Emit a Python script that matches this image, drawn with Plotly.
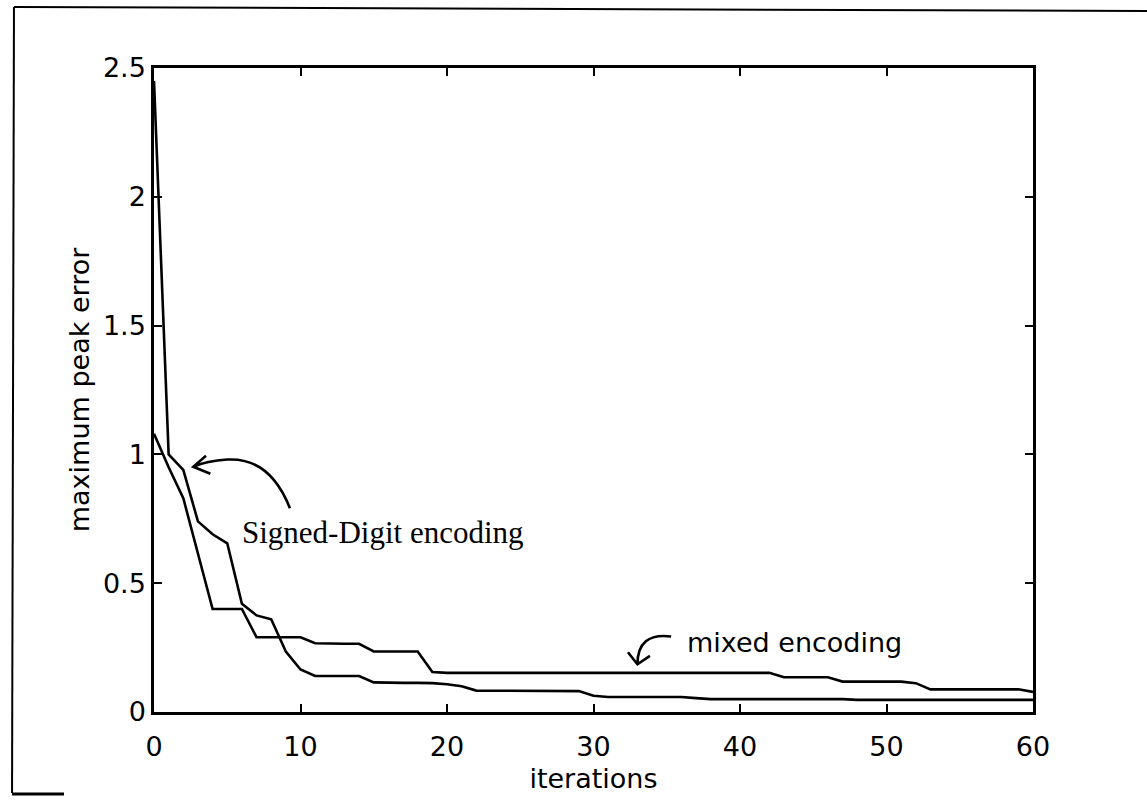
import plotly.graph_objects as go

# ---------------- data ----------------
iterations = list(range(61))

signed_digit = [2.45, 1.00, 0.94, 0.74, 0.69, 0.655, 0.42, 0.375, 0.36, 0.235,
                0.165, 0.14, 0.14, 0.14, 0.14, 0.115, 0.113, 0.113, 0.113, 0.112,
                0.108, 0.10, 0.083, 0.083, 0.083, 0.083, 0.083, 0.083, 0.083, 0.081,
                0.063, 0.058, 0.058, 0.058, 0.058, 0.058, 0.058, 0.054, 0.050, 0.050,
                0.050, 0.050, 0.050, 0.050, 0.050, 0.050, 0.050, 0.050, 0.047, 0.047,
                0.047, 0.047, 0.047, 0.047, 0.047, 0.047, 0.047, 0.047, 0.047, 0.047,
                0.047]

mixed = [1.08, 0.95, 0.83, 0.62, 0.40, 0.40, 0.40, 0.29, 0.29, 0.29,
         0.29, 0.267, 0.265, 0.265, 0.265, 0.235, 0.235, 0.235, 0.235, 0.155,
         0.152, 0.152, 0.152, 0.152, 0.152, 0.152, 0.152, 0.152, 0.152, 0.152,
         0.152, 0.152, 0.152, 0.152, 0.152, 0.152, 0.152, 0.152, 0.152, 0.152,
         0.152, 0.152, 0.152, 0.135, 0.135, 0.135, 0.135, 0.118, 0.118, 0.118,
         0.118, 0.118, 0.112, 0.088, 0.088, 0.088, 0.088, 0.088, 0.088, 0.088,
         0.078]

x_ticks = [0, 10, 20, 30, 40, 50, 60]
y_ticks = [0, 0.5, 1, 1.5, 2, 2.5]
y_tick_labels = ["0", "0.5", "1", "1.5", "2", "2.5"]

x_title = "iterations"
y_title = "maximum peak error"
label_signed = "Signed-Digit encoding"
label_mixed = "mixed encoding"

# ---------------- figure ----------------
SANS = "DejaVu Sans"
SERIF = "Liberation Serif"

fig = go.Figure()
fig.add_trace(go.Scatter(x=iterations, y=signed_digit, mode="lines",
                         line=dict(color="black", width=2.6),
                         name=label_signed, showlegend=False))
fig.add_trace(go.Scatter(x=iterations, y=mixed, mode="lines",
                         line=dict(color="black", width=2.6),
                         name=label_mixed, showlegend=False))

axis_common = dict(
    showgrid=False, zeroline=False,
    showline=True, linecolor="black", linewidth=2.5,
    mirror="ticks", ticks="inside", ticklen=8, tickwidth=1.8, tickcolor="black",
    tickfont=dict(family=SANS, size=27, color="black"),
    automargin=False,
)

fig.update_xaxes(range=[0, 60], tickvals=x_ticks,
                 ticklabelstandoff=9,
                 title=dict(text=x_title, font=dict(family=SANS, size=27, color="black"),
                            standoff=8),
                 **axis_common)
fig.update_yaxes(range=[0, 2.5], tickvals=y_ticks, ticktext=y_tick_labels,
                 ticklabelstandoff=0,
                 title=dict(text=y_title, font=dict(family=SANS, size=27, color="black"),
                            standoff=6),
                 **axis_common)

# annotations (text)
fig.add_annotation(x=5.87, y=0.695, xref="x", yref="y", text=label_signed,
                   showarrow=False, xanchor="left", yanchor="middle",
                   font=dict(family=SERIF, size=31, color="black"))
fig.add_annotation(x=36.25, y=0.268, xref="x", yref="y", text=label_mixed,
                   showarrow=False, xanchor="left", yanchor="middle",
                   font=dict(family=SANS, size=27, color="black"))

# hand-drawn curved arrows
arrow_line = dict(color="black", width=2.6)
fig.add_shape(type="path", xref="x", yref="y", line=arrow_line,
              path="M 9.28,0.791 Q 7.9,0.99 5.0,0.98 Q 3.6,0.975 2.68,0.952")
fig.add_shape(type="path", xref="x", yref="y", line=arrow_line,
              path="M 3.55,0.995 L 2.68,0.952 L 3.85,0.925")
fig.add_shape(type="path", xref="x", yref="y", line=arrow_line,
              path="M 35.3,0.293 Q 33.0,0.31 33.0,0.185")
fig.add_shape(type="path", xref="x", yref="y", line=arrow_line,
              path="M 32.35,0.232 L 33.0,0.185 L 33.85,0.218")

# scanned page frame (outside the plot area)
frame_line = dict(color="black", width=2)
fig.add_shape(type="line", xref="paper", yref="paper", line=frame_line,
              x0=-0.1593, y0=1.0947, x1=1.1297, y1=1.0885)
fig.add_shape(type="line", xref="paper", yref="paper", line=frame_line,
              x0=-0.1593, y0=1.0947, x1=-0.1615, y1=-0.1258)
fig.add_shape(type="line", xref="paper", yref="paper", line=dict(color="black", width=3),
              x0=-0.1615, y0=-0.1273, x1=-0.1024, y1=-0.1273)

fig.update_layout(
    width=1147, height=803,
    margin=dict(l=154, r=114, t=68, b=91, pad=0),
    paper_bgcolor="white", plot_bgcolor="white",
    showlegend=False,
)

fig.write_html("out.html", config={"displayModeBar": False},
               post_script="document.body.style.margin='0px';")
